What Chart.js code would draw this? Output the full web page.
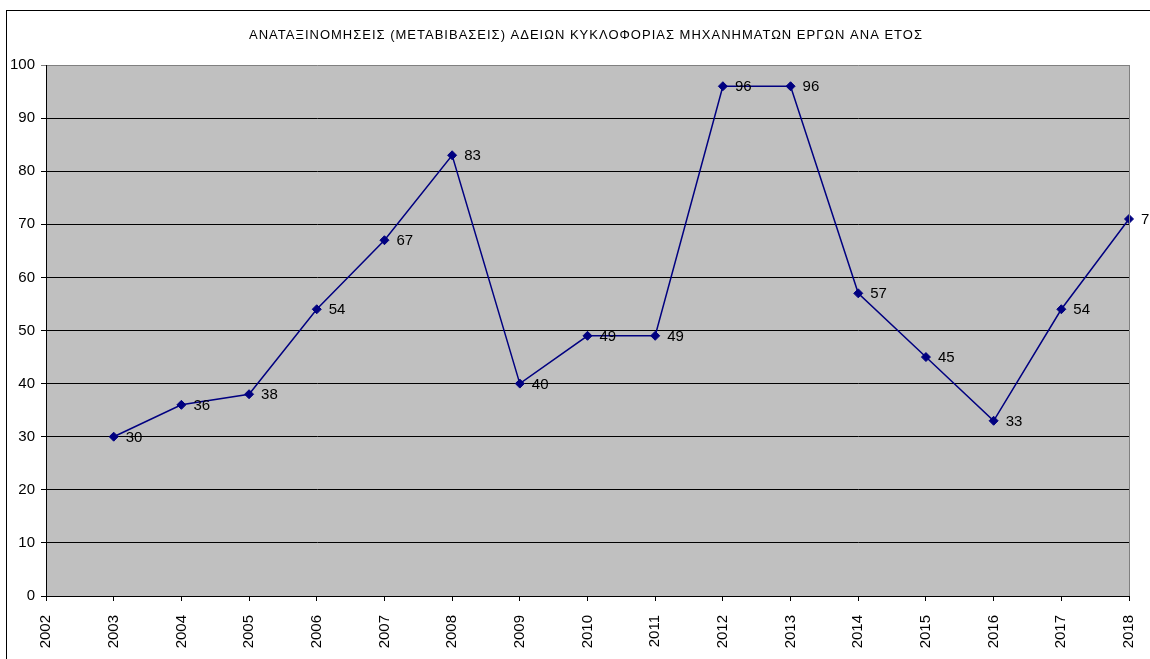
<!DOCTYPE html>
<html>
<head>
<meta charset="utf-8">
<script src="https://cdn.jsdelivr.net/npm/chart.js@4"></script>
<style>
  html, body { margin: 0; padding: 0; background: #fff; overflow: hidden; }
  canvas { display: block; }
</style>
</head>
<body>
<canvas id="chart" width="1150" height="659"></canvas>
<script>
// chart values
const chartTitle = 'ΑΝΑΤΑΞΙΝΟΜΗΣΕΙΣ (ΜΕΤΑΒΙΒΑΣΕΙΣ) ΑΔΕΙΩΝ ΚΥΚΛΟΦΟΡΙΑΣ ΜΗΧΑΝΗΜΑΤΩΝ ΕΡΓΩΝ ΑΝΑ ΕΤΟΣ';
const years = [2003, 2004, 2005, 2006, 2007, 2008, 2009, 2010, 2011, 2012, 2013, 2014, 2015, 2016, 2017, 2018];
const transfers = [30, 36, 38, 54, 67, 83, 40, 49, 49, 96, 96, 57, 45, 33, 54, 71];
const xMin = 2002, xMax = 2018;
const yMin = 0, yMax = 100, yStep = 10;

const FONT = 'Arial, "Liberation Sans", sans-serif';

// white page, grey plot area, outer frame, title
const frame = {
  id: 'frame',
  beforeDraw(chart) {
    const { ctx, chartArea: a } = chart;
    ctx.save();
    ctx.fillStyle = '#fff';
    ctx.fillRect(0, 0, chart.width, chart.height);
    ctx.fillStyle = '#c0c0c0';
    ctx.fillRect(a.left, a.top, a.right - a.left, a.bottom - a.top);
    ctx.restore();
  },
  afterDraw(chart) {
    const { ctx, chartArea: a } = chart;
    ctx.save();
    // outer chart border (runs off the right / bottom edge)
    ctx.strokeStyle = '#000';
    ctx.lineWidth = 1;
    ctx.strokeRect(6.5, 10.5, chart.width + 20, chart.height + 20);
    // right border of the plot area
    ctx.strokeStyle = '#808080';
    ctx.beginPath();
    ctx.moveTo(a.right + 0.5, a.top);
    ctx.lineTo(a.right + 0.5, a.bottom);
    ctx.stroke();
    // title
    ctx.fillStyle = '#000';
    ctx.font = '13px ' + FONT;
    ctx.letterSpacing = '1px';
    ctx.textAlign = 'center';
    ctx.textBaseline = 'middle';
    ctx.fillText(chartTitle, 586, 35);
    ctx.restore();
  }
};

// value labels to the right of each point
const valueLabels = {
  id: 'valueLabels',
  afterDatasetsDraw(chart) {
    const { ctx } = chart;
    const meta = chart.getDatasetMeta(0);
    ctx.save();
    ctx.fillStyle = '#000';
    ctx.font = '15px ' + FONT;
    ctx.textAlign = 'left';
    ctx.textBaseline = 'middle';
    meta.data.forEach((pt, i) => {
      ctx.fillText(String(transfers[i]), pt.x + 12, pt.y + 1);
    });
    ctx.restore();
  }
};

new Chart(document.getElementById('chart'), {
  type: 'line',
  data: {
    datasets: [{
      data: years.map((y, i) => ({ x: y, y: transfers[i] })),
      borderColor: '#000080',
      borderWidth: 1.5,
      pointStyle: 'rectRot',
      pointRadius: 4.5,
      pointBackgroundColor: '#000080',
      pointBorderColor: '#000080',
      pointBorderWidth: 1,
      tension: 0,
      clip: false
    }]
  },
  options: {
    responsive: false,
    animation: false,
    events: [],
    layout: { padding: { left: 0, top: 65, right: 21, bottom: 0 } },
    plugins: {
      legend: { display: false },
      title: { display: false },
      tooltip: { enabled: false }
    },
    scales: {
      x: {
        type: 'linear',
        min: xMin,
        max: xMax,
        afterFit: s => { s.height = 63; s.paddingLeft = 0; s.paddingRight = 0; },
        border: { display: true, color: '#000', width: 1 },
        grid: { drawOnChartArea: false, drawTicks: true, tickLength: 5, color: '#000' },
        ticks: {
          stepSize: 1,
          minRotation: 90,
          maxRotation: 90,
          padding: 14,
          color: '#000',
          font: { family: FONT, size: 15 },
          callback: v => String(v)
        }
      },
      y: {
        min: yMin,
        max: yMax,
        afterFit: s => { s.width = 46; s.paddingTop = 0; s.paddingBottom = 0; },
        border: { display: true, color: '#000', width: 1 },
        grid: {
          drawTicks: true,
          tickLength: 5,
          color: ctx => (ctx.tick && ctx.tick.value === yMax ? '#808080' : '#000'),
          lineWidth: 1
        },
        ticks: {
          stepSize: yStep,
          padding: 6,
          color: '#000',
          font: { family: FONT, size: 15 }
        }
      }
    }
  },
  plugins: [frame, valueLabels]
});
</script>
</body>
</html>
